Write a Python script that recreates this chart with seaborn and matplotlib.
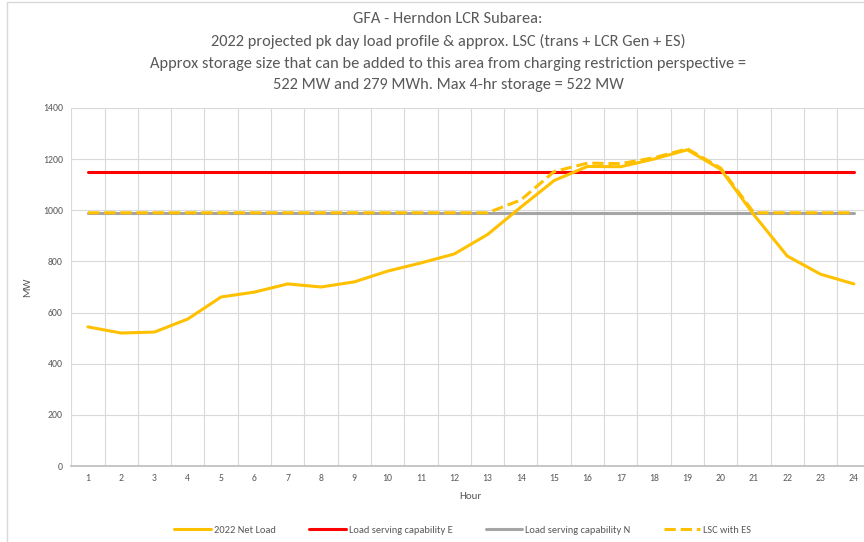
import numpy as np
import pandas as pd
import matplotlib.pyplot as plt
import seaborn as sns

# --- DATA ---
hours = list(range(1, 25))
net_load = [544, 520, 524, 575, 661, 680, 712, 700, 720, 762, 794, 829,
            905, 1012, 1116, 1171, 1170, 1200, 1236, 1160, 982, 821, 750, 712]
lsc_e = [1150] * 24
lsc_n = [990] * 24
lsc_es = [990, 990, 990, 990, 990, 990, 990, 990, 990, 990, 990, 990,
          990, 1040, 1151, 1184, 1182, 1205, 1240, 1165, 990, 990, 990, 990]

series_names = ["2022 Net Load", "Load serving capability E",
                "Load serving capability N", "LSC with ES"]
title_lines = [
    "GFA - Herndon LCR Subarea:",
    "2022 projected pk day load profile & approx. LSC (trans + LCR Gen + ES)",
    "Approx storage size that can be added to this area from charging restriction perspective =",
    "522 MW and 279 MWh. Max 4-hr storage = 522 MW",
]

df = pd.DataFrame({
    "Hour": hours * 4,
    "MW": net_load + lsc_e + lsc_n + lsc_es,
    "Series": sum([[s] * 24 for s in series_names], []),
})

sns.set_theme(style="white")
plt.rcParams['font.family'] = ['Carlito', 'Liberation Sans', 'DejaVu Sans']

TXT = "#595959"
palette = {
    "2022 Net Load": "#FFC000",
    "Load serving capability E": "#FF0000",
    "Load serving capability N": "#A5A5A5",
    "LSC with ES": "#FFC000",
}

fig = plt.figure(figsize=(8.64, 5.42), dpi=100)
ax = fig.add_axes([0.0825, 0.140, 0.925, 0.661])

# chart-area border (left and top edges visible in the crop)
fig.add_artist(plt.Line2D([7 / 864, 7 / 864], [0, 1 - 2 / 542], color="#D9D9D9", lw=1))
fig.add_artist(plt.Line2D([7 / 864, 1], [1 - 2 / 542, 1 - 2 / 542], color="#D9D9D9", lw=1))

# draw order: N first so the dashed ES line sits on top
for name, z in [("Load serving capability N", 2), ("Load serving capability E", 3),
                ("2022 Net Load", 4), ("LSC with ES", 5)]:
    sub = df[df["Series"] == name]
    sns.lineplot(data=sub, x="Hour", y="MW", ax=ax, color=palette[name],
                 linewidth=2.2, zorder=z, label=name,
                 linestyle="--" if name == "LSC with ES" else "-")

ax.set_xlim(0.5, 24.5)
ax.set_ylim(0, 1400)
ax.set_yticks(range(0, 1401, 200))
ax.set_xticks(hours)
ax.set_xticks(np.arange(0.5, 24.6, 1), minor=True)
ax.grid(axis="y", which="major", color="#D9D9D9", linewidth=0.8)
ax.grid(axis="x", which="minor", color="#D9D9D9", linewidth=0.8)
ax.tick_params(axis="both", which="both", length=0, labelsize=7, labelcolor=TXT, pad=6)
for side in ["top", "right", "left"]:
    ax.spines[side].set_visible(False)
ax.spines["bottom"].set_color("#BFBFBF")

ax.set_xlabel("Hour", fontsize=8, color=TXT, labelpad=6)
ax.set_ylabel("MW", fontsize=8, color=TXT, labelpad=8)
fig.text(448 / 864, 1 - 12 / 542, "\n".join(title_lines), ha="center", va="top",
         fontsize=11.8, color=TXT, linespacing=1.68)

handles, labels = ax.get_legend_handles_labels()
order = [labels.index(s) for s in series_names]
ax.legend([handles[i] for i in order], [labels[i] for i in order],
          loc="upper center", bbox_to_anchor=(0.49, -0.14), ncol=4, frameon=False,
          fontsize=7.5, labelcolor=TXT, handlelength=3.5, columnspacing=3.2, handletextpad=0.3)

plt.savefig("out.png", dpi=100)
plt.close()
